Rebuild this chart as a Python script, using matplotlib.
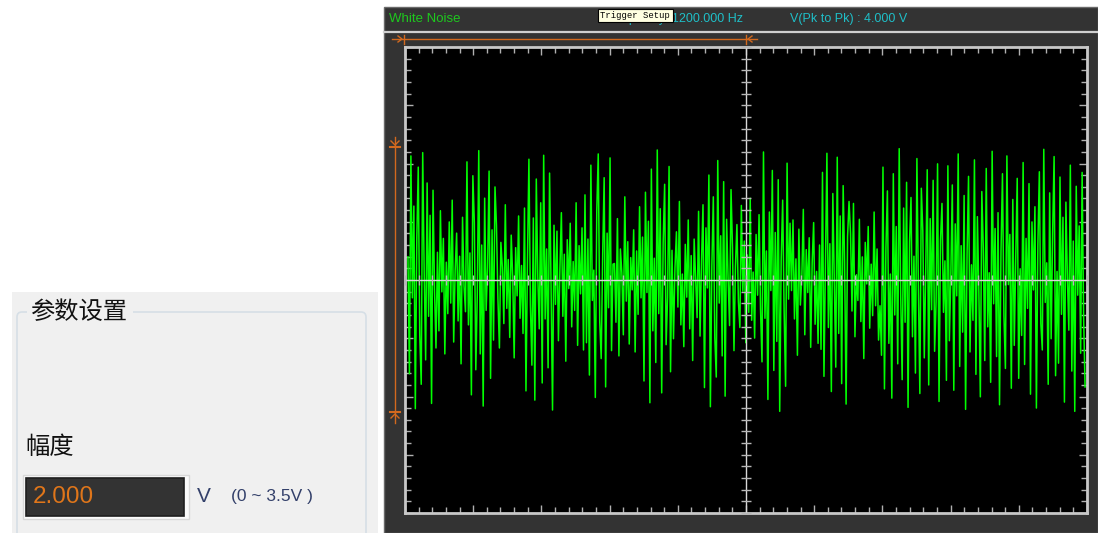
import numpy as np
import matplotlib
matplotlib.use('Agg')
import matplotlib.pyplot as plt
from matplotlib.patches import Rectangle, FancyBboxPatch

plt.rcParams['font.family'] = ['Liberation Sans', 'Noto Sans CJK SC', 'DejaVu Sans']

# ---- values (volts, left to right) ----
noise_v = [
    0.35, -1.42, 1.88, -0.27, 1.12, -1.95, 0.64, 1.71, -0.83, -1.58, 1.93, 0.12, -1.21, 1.47, -0.55, 0.98, -1.87, 1.36, -0.14, -1.03,
    0.42, -0.77, 1.05, -0.18, 0.63, -1.12, 0.27, -0.51, 0.88, -0.35, 1.21, -0.94, 0.14, 0.71, -0.62, 0.36, -1.27, 0.95, -0.09, -0.48,
    1.79, -0.68, 0.41, -1.74, 1.58, 0.87, -1.36, -0.22, 1.96, -1.12, 0.53, -1.91, 1.24, -0.46, 0.19, 1.65, -1.49, 0.76, -0.91, 1.41,
    0.83, -0.29, -1.03, 0.57, 0.19, -0.66, 1.14, -0.43, 0.31, -0.87, 0.68, 0.05, -1.18, 0.49, -0.24, 0.97, -0.58, 0.22, -0.81, 1.09,
    -1.68, 0.28, 1.83, -0.37, -1.29, 0.94, -1.82, 1.53, 0.06, -0.74, 1.17, -1.56, 1.89, -0.59, 0.47, -1.33, 1.62, -0.08, -1.97, 0.83,
    -0.37, 0.74, -0.92, 0.16, 1.02, -0.55, 0.39, -1.23, 0.61, -0.13, 0.86, -0.71, 0.28, -0.46, 1.17, -0.99, 0.52, -0.21, 0.79, -1.06,
    1.29, -0.95, 0.62, -1.44, 1.74, -0.31, 0.15, -1.78, 1.05, 1.91, -0.63, -1.19, 0.38, 1.55, -1.62, 0.71, -0.42, 1.85, -1.07, 0.24,
    0.25, -0.64, 0.93, -1.15, 0.47, 0.11, -0.83, 1.26, -0.32, 0.58, -0.97, 0.34, -0.15, 0.76, -1.09, 0.44, -0.52, 1.11, -0.27, 0.65,
    -1.53, 1.33, -0.19, 0.89, -1.86, 1.68, -0.77, 0.33, -1.25, 1.97, -0.51, 1.08, -1.71, 0.57, 1.45, -0.98, -0.26, 1.72, -1.39, 0.45,
    -0.89, 0.18, 0.73, -0.41, 1.19, -0.68, 0.09, -1.01, 0.54, -0.26, 0.91, -0.74, 0.37, -1.22, 0.62, 0.02, -0.57, 1.04, -0.85, 0.29,
    1.14, -1.63, 0.79, -0.12, 1.59, -1.92, 0.21, 1.26, -0.87, -1.47, 1.81, -0.35, 0.67, -1.15, 1.49, -1.76, 0.92, 0.03, -0.69, 1.37,
    0.48, -1.07, 0.21, 0.84, -0.33, -0.72, 1.13, -0.17, 0.59, -0.95, 0.38, -0.49, 1.24, -0.61, 0.12, -0.88, 0.69, -0.23, 0.99, -0.44,
    -1.24, 1.94, -0.58, 0.44, -1.81, 1.03, -0.16, 1.66, -1.37, 0.72, -0.93, 1.52, -1.99, 0.31, 1.21, -0.48, -1.61, 1.77, -0.29, 0.86,
    -0.16, 0.91, -0.59, 0.32, -1.14, 0.77, -0.38, 0.05, 1.07, -0.83, 0.46, -0.19, 0.64, -1.02, 0.26, 0.87, -0.67, 0.13, -0.96, 0.53,
    -1.05, 1.63, -1.46, 0.18, 1.92, -0.72, 0.55, -1.69, 1.31, -0.04, -1.32, 1.86, -0.81, 0.97, -1.57, 1.43, 0.27, -1.88, 0.66, 1.19,
    0.71, -0.47, 1.16, -0.86, 0.08, -0.31, 0.92, -0.63, 0.35, -1.19, 0.57, -0.06, 0.81, -0.73, 0.24, -0.54, 1.03, -0.39, 0.47, -0.91,
    -0.39, -1.14, 1.71, -1.65, 0.49, 1.35, -0.96, 0.09, -1.79, 1.61, -0.53, 0.81, -1.27, 1.99, -0.21, -1.51, 1.09, -0.64, 1.48, -1.93,
    0.58, 1.25, -0.86, 0.36, -1.41, 1.84, -0.11, -1.72, 1.39, 0.74, -1.18, 0.16, 1.67, -1.59, 0.93, -0.45, 1.51, -1.08, -0.33, 1.76,
    -1.84, 0.61, 1.16, -0.49, 0.29, -1.52, 1.73, -0.92, 0.07, 1.44, -1.67, 0.85, -0.24, 1.91, -1.31, 0.52, -0.79, 1.28, -1.96, 0.39,
    1.57, -1.09, 0.23, -0.61, 1.82, -1.43, 0.96, -0.18, -1.77, 1.34, 0.48, -1.22, 1.69, -0.71, 0.11, -1.55, 1.95, -0.36, 0.78, -1.16,
    1.02, -1.89, 0.43, 1.61, -0.54, -1.34, 1.88, -0.07, 0.69, -1.64, 1.22, -0.99, 0.34, 1.54, -1.49, 0.17, -0.84, 1.78, -1.28, 0.63,
    -0.43, 1.46, -1.73, 0.88, -0.15, 1.11, -1.94, 0.54, 1.64, -0.66, -1.06, 1.98, -0.34, 0.26, -1.58, 1.32, -0.89, 0.71, 1.87, -1.45,
    0.13, -1.26, 1.56, -0.52, 0.95, -1.85, 1.18, 0.04, -0.76, 1.74, -1.38, 0.59, -1.99, 1.42, -0.23, 0.82, -1.11, 1.63, -0.57, -1.62,
]
signal_name = 'White Noise'
freq_text = 'Frequency: 1200.000 Hz'
vpp_text = 'V(Pk to Pk) : 4.000 V'
tooltip_text = 'Trigger Setup'
group_title = '参数设置'
amp_label = '幅度'
amp_value = '2.000'
amp_unit = 'V'
amp_range = '(0 ~ 3.5V )'
n_xdiv, n_ydiv, minor_per_div = 10, 8, 5
v_half_span = 3.53

W, H = 1098, 533
fig = plt.figure(figsize=(W / 100, H / 100), dpi=100)
fig.patch.set_facecolor('white')

# overlay in pixel coords for the UI pieces
bg = fig.add_axes([0, 0, 1, 1])
bg.set_xlim(0, W)
bg.set_ylim(H, 0)
bg.axis('off')

# left parameter panel
bg.add_patch(Rectangle((12, 292), 366, 241, fc='#f0f0f0', ec='none'))
bg.add_patch(FancyBboxPatch((17, 312), 349, 240, boxstyle='round,pad=0,rounding_size=5',
                            fc='#f0f0f0', ec='#d6dfe6', lw=1.2))
bg.add_patch(Rectangle((27, 302), 106, 18, fc='#f0f0f0', ec='none'))
bg.text(30, 312, group_title, fontsize=17.5, color='#111111', va='center', ha='left',
        family=['Noto Sans CJK SC', 'DejaVu Sans'])
bg.text(25, 447, amp_label, fontsize=17.5, color='#111111', va='center', ha='left',
        family=['Noto Sans CJK SC', 'DejaVu Sans'])
bg.add_patch(Rectangle((23, 475), 166, 44, fc='#fafafa', ec='#d8d8d8', lw=1))
bg.add_patch(Rectangle((26, 478), 158, 38, fc='#333333', ec='#1e1e1e', lw=1.2))
bg.text(33, 497, amp_value, fontsize=17.5, color='#e0761a', va='center', ha='left')
bg.text(197, 497, amp_unit, fontsize=15, color='#33406a', va='center', ha='left')
bg.text(231, 497, amp_range, fontsize=12.5, color='#33406a', va='center', ha='left')

# scope panel
bg.add_patch(Rectangle((384, 7), 714, 526, fc='#333333', ec='#6a6a6a', lw=1))
bg.plot([384, 1098], [32, 32], color='#d0d0d0', lw=1.6)
bg.text(389, 19, signal_name, fontsize=9.5, color='#1ec81e', va='center', ha='left')
bg.text(606, 19, freq_text, fontsize=9, color='#1fbfc8', va='center', ha='left')
bg.text(790, 19, vpp_text, fontsize=9, color='#1fbfc8', va='center', ha='left')
# hover tooltip sits over the start of the frequency readout, as in the screenshot
bg.add_patch(Rectangle((598, 9), 75, 13, fc='#ffffe1', ec='black', lw=0.8, zorder=5))
bg.text(600, 15.5, tooltip_text, fontsize=6.4, color='black', va='center', ha='left',
        family='Liberation Mono', zorder=6)

# orange trigger markers
org = '#d2691e'
bg.plot([392, 757], [39, 39], color=org, lw=1)
bg.plot([404, 404], [35, 44], color=org, lw=1)
bg.plot([398, 402, 398], [36, 39, 42], color=org, lw=1)
bg.plot([746, 746], [35, 44], color=org, lw=1)
bg.plot([752, 748, 752], [36, 39, 42], color=org, lw=1)
bg.plot([395, 395], [137, 423], color=org, lw=1)
bg.plot([390, 400], [147, 147], color=org, lw=1.5)
bg.plot([391, 395, 399], [141, 145, 141], color=org, lw=1)
bg.plot([390, 400], [412, 412], color=org, lw=1.5)
bg.plot([391, 395, 399], [418, 414, 418], color=org, lw=1)

# scope screen
ax = fig.add_axes([405 / W, (H - 513) / H, 682 / W, 466 / H])
ax.set_facecolor('black')
x = np.arange(len(noise_v))
xmin, xmax = -2.0, len(noise_v) - 1 + 1.3
ax.plot(x, noise_v, color='#00ff00', lw=1.1, zorder=2)
ax.set_xlim(xmin, xmax)
ax.set_ylim(-v_half_span, v_half_span)

xt_major = np.linspace(xmin, xmax, n_xdiv + 1)
xt_minor = np.linspace(xmin, xmax, n_xdiv * minor_per_div + 1)
yt_major = np.linspace(-v_half_span, v_half_span, n_ydiv + 1)
yt_minor = np.linspace(-v_half_span, v_half_span, n_ydiv * minor_per_div + 1)
ax.set_xticks(xt_major)
ax.set_xticks(xt_minor, minor=True)
ax.set_yticks(yt_major)
ax.set_yticks(yt_minor, minor=True)
ax.tick_params(which='both', direction='in', top=True, right=True,
               labelbottom=False, labelleft=False, color='#b0b0b0', width=1)
ax.tick_params(which='major', length=6)
ax.tick_params(which='minor', length=4)
for s in ax.spines.values():
    s.set_color('#c8c8c8')
    s.set_linewidth(2)

# centre crosshair with its small ticks
xc = (xmin + xmax) / 2
ax.axhline(0, color='#d8d8d8', lw=1, zorder=3)
ax.axvline(xc, color='#d8d8d8', lw=1, zorder=3)
ax.plot(xt_minor, np.zeros_like(xt_minor), ls='none', marker='|', ms=7, mew=1,
        color='#b8b8b8', zorder=3)
ax.plot(np.full_like(yt_minor, xc), yt_minor, ls='none', marker='_', ms=7, mew=1,
        color='#b8b8b8', zorder=3)

fig.savefig('out.png', dpi=100, facecolor='white')
